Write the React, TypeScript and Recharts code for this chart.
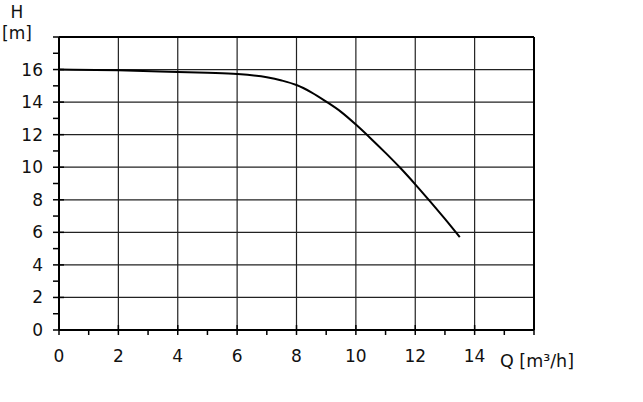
import { LineChart, Line, XAxis, YAxis, ReferenceLine } from 'recharts';

// pump curve, Q [m3/h] vs H [m]
const flowQ = [0, 2, 4, 5, 6, 7, 7.5, 8, 8.5, 9, 9.5, 10, 10.5, 11, 11.5, 12, 12.5, 13, 13.5];
const headH = [16.0, 15.95, 15.85, 15.8, 15.73, 15.53, 15.33, 15.05, 14.6, 14.03, 13.4, 12.62, 11.77, 10.88, 9.95, 8.95, 7.9, 6.82, 5.7];

const xTicks = [0, 1, 2, 3, 4, 5, 6, 7, 8, 9, 10, 11, 12, 13, 14, 15, 16];
const yTicks = [0, 1, 2, 3, 4, 5, 6, 7, 8, 9, 10, 11, 12, 13, 14, 15, 16, 17, 18];
const gridQ = [2, 4, 6, 8, 10, 12, 14];
const gridH = [2, 4, 6, 8, 10, 12, 14, 16];

const data = flowQ.map((q, i) => ({ q, h: headH[i] }));

const FONT = '"DejaVu Sans", Verdana, sans-serif';

const XTick = ({ x, y, payload }: any) => {
  const v = payload.value;
  const major = v % 2 === 0;
  return (
    <g>
      <line x1={x} x2={x} y1={major ? y - 5 : y} y2={y + 5} stroke="#000" strokeWidth={1.5} />
      {major && v < 16 && (
        <text x={x} y={y + 32} textAnchor="middle" fontSize={17} fill="#111" fontFamily={FONT}>{v}</text>
      )}
    </g>
  );
};

const YTick = ({ x, y, payload }: any) => {
  const v = payload.value;
  const major = v % 2 === 0;
  return (
    <g>
      <line x1={x - 6} x2={major ? x + 5 : x} y1={y} y2={y} stroke="#000" strokeWidth={1.5} />
      {major && v < 18 && (
        <text x={x - 16} y={y + 6} textAnchor="end" fontSize={17} fill="#111" fontFamily={FONT}>{v}</text>
      )}
    </g>
  );
};

export default function App() {
  return (
    <div style={{ position: 'absolute', left: 0, top: 0, width: 643, height: 402, background: '#fff' }}>
      <LineChart width={643} height={402} data={data} margin={{ top: 37, right: 109, bottom: 71, left: 58 }}>
        <XAxis dataKey="q" type="number" domain={[0, 16]} ticks={xTicks} interval={0} height={1}
          axisLine={{ stroke: '#000', strokeWidth: 2 }} tickLine={false} tickSize={0} tickMargin={0} tick={<XTick />} />
        <YAxis type="number" domain={[0, 18]} ticks={yTicks} interval={0} width={1}
          axisLine={{ stroke: '#000', strokeWidth: 2 }} tickLine={false} tickSize={0} tickMargin={0} tick={<YTick />} />
        {gridQ.map(q => <ReferenceLine key={'q' + q} x={q} stroke="#222" strokeWidth={1.2} />)}
        {gridH.map(h => <ReferenceLine key={'h' + h} y={h} stroke="#222" strokeWidth={1.2} />)}
        <ReferenceLine y={18} stroke="#000" strokeWidth={2} />
        <ReferenceLine x={16} stroke="#000" strokeWidth={2} />
        <Line type="monotone" dataKey="h" stroke="#000" strokeWidth={2} dot={false} isAnimationActive={false} />
        <text x={17} y={18} textAnchor="middle" fontSize={17} fill="#111" fontFamily={FONT}>H</text>
        <text x={17} y={39} textAnchor="middle" fontSize={17} fill="#111" fontFamily={FONT}>[m]</text>
        <text x={500} y={367} textAnchor="start" fontSize={17.5} fill="#111" fontFamily={FONT}>Q [m³/h]</text>
      </LineChart>
    </div>
  );
}
